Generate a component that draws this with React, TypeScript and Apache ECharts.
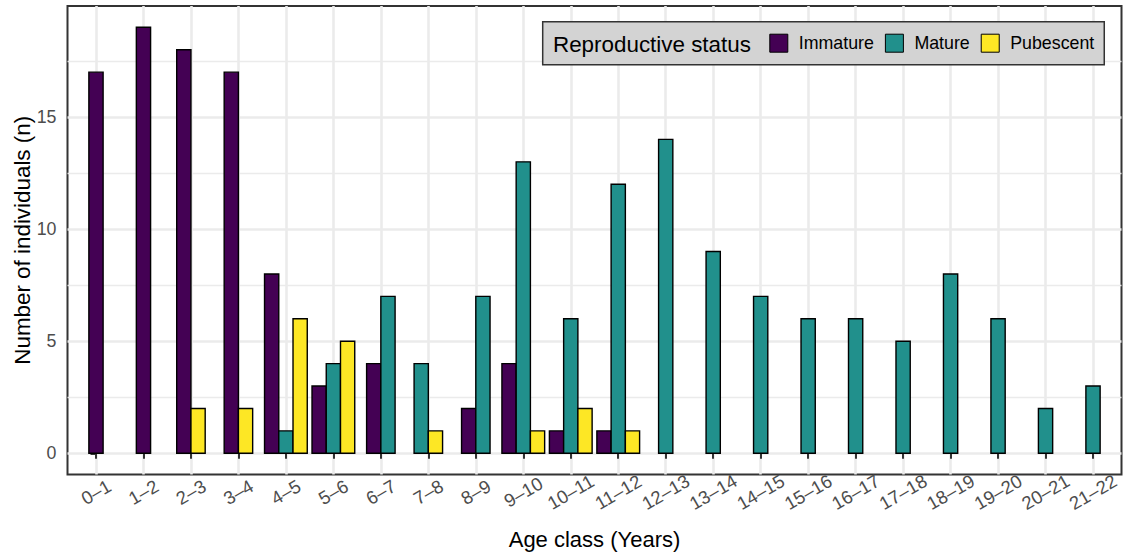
import React, { useEffect, useRef } from "react";
import * as echarts from "echarts";

const categories = [
  "0–1", "1–2", "2–3", "3–4", "4–5", "5–6", "6–7", "7–8", "8–9", "9–10", "10–11",
  "11–12", "12–13", "13–14", "14–15", "15–16", "16–17", "17–18", "18–19", "19–20", "20–21", "21–22",
];
const immature = [17, 19, 18, 17, 8, 3, 4, 0, 2, 4, 1, 1, 0, 0, 0, 0, 0, 0, 0, 0, 0, 0];
const mature = [0, 0, 0, 0, 1, 4, 7, 4, 7, 13, 6, 12, 14, 9, 7, 6, 6, 5, 8, 6, 2, 3];
const pubescent = [0, 0, 2, 2, 6, 5, 0, 1, 0, 1, 2, 1, 0, 0, 0, 0, 0, 0, 0, 0, 0, 0];
const groupNames = ["Immature", "Mature", "Pubescent"];
const groupColors = ["#440154", "#21908C", "#FDE725"];
const yTicks = [0, 5, 10, 15];
const yMinorTicks = [2.5, 7.5, 12.5, 17.5];

const FONT = '"Liberation Sans", Arial, Helvetica, sans-serif';
const BAR_W = 0.3;

function buildData(): number[][][] {
  const groups = [immature, mature, pubescent];
  const out: number[][][] = groups.map(() => []);
  categories.forEach((_, i) => {
    const present = groups
      .map((g, gi) => (g[i] > 0 ? gi : -1))
      .filter((gi) => gi >= 0);
    const n = present.length;
    present.forEach((gi, k) => {
      out[gi].push([i, groups[gi][i], (k - (n - 1) / 2) * BAR_W]);
    });
  });
  return out;
}

export default function App() {
  const ref = useRef<HTMLDivElement>(null);
  useEffect(() => {
    if (!ref.current) return;
    const chart = echarts.init(ref.current, undefined, { renderer: "svg" });
    const data = buildData();
    const xTickVals = categories.map((_, i) => i);

    const series: any[] = groupNames.map((name, gi) => ({
      type: "custom",
      name,
      xAxisIndex: 0,
      yAxisIndex: 0,
      itemStyle: { color: groupColors[gi] },
      encode: { x: 0, y: 1 },
      data: data[gi],
      z: 3,
      renderItem: (params: any, api: any) => {
        const x = api.value(0);
        const v = api.value(1);
        const off = api.value(2);
        const p0 = api.coord([x + off - BAR_W / 2, v]);
        const p1 = api.coord([x + off + BAR_W / 2, 0]);
        return {
          type: "rect",
          shape: { x: p0[0], y: p0[1], width: p1[0] - p0[0], height: p1[1] - p0[1] },
          style: { fill: groupColors[gi], stroke: "#000000", lineWidth: 1.4 },
        };
      },
    }));

    chart.setOption({
      animation: false,
      backgroundColor: "#FFFFFF",
      textStyle: { fontFamily: FONT },
      grid: {
        left: 67.5,
        right: 1.5,
        top: 6,
        bottom: 78.4,
        show: true,
        backgroundColor: "#FFFFFF",
        borderColor: "#333333",
        borderWidth: 2,
        containLabel: false,
        outerBoundsMode: "none",
      },
      xAxis: {
        type: "value",
        min: -0.6,
        max: 21.6,
        name: "Age class (Years)",
        nameLocation: "middle",
        nameGap: 54,
        nameMoveOverlap: false,
        nameTextStyle: { fontSize: 22, color: "#000000", fontFamily: FONT },
        axisLine: { show: false },
        axisTick: {
          show: true,
          customValues: xTickVals,
          length: 5.5,
          lineStyle: { color: "#333333", width: 2 },
        },
        axisLabel: {
          customValues: xTickVals,
          formatter: (v: number) => categories[Math.round(v)] ?? "",
          rotate: 30,
          align: "center",
          verticalAlign: "middle",
          margin: 17.5,
          fontSize: 18.5,
          color: "#4D4D4D",
          fontFamily: FONT,
        },
        splitLine: { show: true, lineStyle: { color: "#EBEBEB", width: 2.6 } },
      },
      yAxis: [
        {
          type: "value",
          min: -0.95,
          max: 19.95,
          name: "Number of individuals (n)",
          nameLocation: "middle",
          nameGap: 34,
          nameMoveOverlap: false,
          nameTextStyle: { fontSize: 22.4, color: "#000000", fontFamily: FONT },
          axisLine: { show: false },
          axisTick: {
            show: true,
            customValues: yTicks,
            length: 5.5,
            lineStyle: { color: "#333333", width: 2 },
          },
          axisLabel: {
            customValues: yTicks,
            margin: 11,
            fontSize: 17.8,
            color: "#4D4D4D",
            fontFamily: FONT,
          },
          splitLine: { show: true, lineStyle: { color: "#EBEBEB", width: 2.6 } },
        },
        {
          type: "value",
          min: -0.95,
          max: 19.95,
          position: "left",
          axisLine: { show: false },
          axisTick: { show: false, customValues: yMinorTicks },
          axisLabel: { show: false },
          splitLine: { show: true, lineStyle: { color: "#EBEBEB", width: 1.3 } },
        },
      ],
      legend: {
        data: groupNames,
        left: 542.7,
        top: 21.7,
        orient: "horizontal",
        icon: "rect",
        itemWidth: 18,
        itemHeight: 18,
        itemGap: 11,
        padding: [12, 10, 12, 226.6],
        backgroundColor: "#D3D3D3",
        borderColor: "#333333",
        borderWidth: 1.5,
        borderRadius: 0,
        selectedMode: false,
        itemStyle: { borderColor: "#000000", borderWidth: 1 },
        textStyle: { fontSize: 17.8, color: "#000000", fontFamily: FONT, padding: [0, 0, 0, 6] },
      },
      graphic: [
        {
          type: "text",
          left: 553,
          top: 33,
          z: 100,
          style: {
            text: "Reproductive status",
            fontSize: 22.4,
            fill: "#000000",
            fontFamily: FONT,
          },
        },
      ],
      series,
    });
    return () => chart.dispose();
  }, []);
  return (
    <div
      ref={ref}
      style={{ position: "absolute", left: 0, top: 0, width: 1123, height: 553, background: "#fff" }}
    />
  );
}
